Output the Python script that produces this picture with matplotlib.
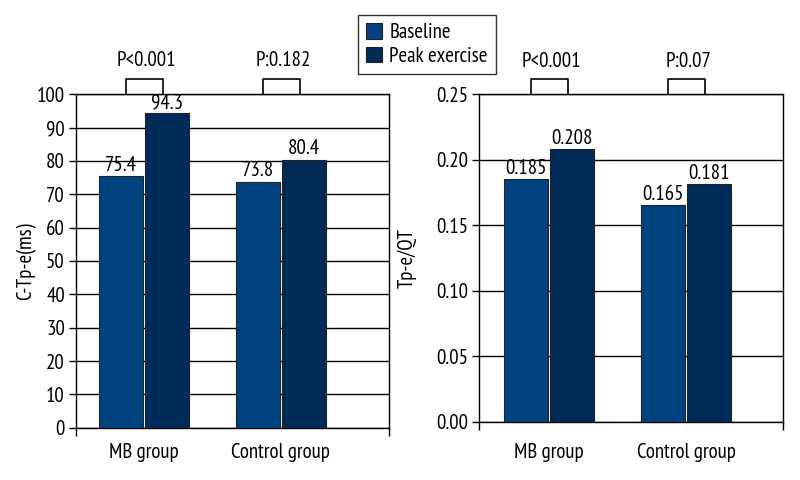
import matplotlib
matplotlib.use("Agg")
import matplotlib.pyplot as plt
from matplotlib.patches import Patch
import numpy as np

plt.rcParams["font.family"] = ["PT Sans Narrow", "DejaVu Sans"]

groups = ["MB group", "Control group"]
series = ["Baseline", "Peak exercise"]
ctpe_base = [75.4, 73.8]
ctpe_peak = [94.3, 80.4]
ratio_base = [0.185, 0.165]
ratio_peak = [0.208, 0.181]
ctpe_labels = [["75.4", "73.8"], ["94.3", "80.4"]]
ratio_labels = [["0.185", "0.165"], ["0.208", "0.181"]]
ctpe_p = ["P<0.001", "P:0.182"]
ratio_p = ["P<0.001", "P:0.07"]

c_base = "#00427F"
c_peak = "#002B59"
FS = 15

fig = plt.figure(figsize=(8, 4.8), dpi=100)
ax1 = fig.add_axes([0.095, 0.109, 0.391, 0.6945])
ax2 = fig.add_axes([0.599, 0.1215, 0.380, 0.6825])


def draw(ax, base, peak, labels, pvals, ylim, yticks, fmt, ylabel, xlim, xpad, labx):
    x = np.arange(len(groups))
    w = 0.32
    off = 0.168
    ax.bar(x - off, base, w, color=c_base, edgecolor="#222222", lw=0.8, zorder=3)
    ax.bar(x + off, peak, w, color=c_peak, edgecolor="#222222", lw=0.8, zorder=3)
    for i in range(len(groups)):
        ax.annotate(labels[0][i], (x[i] - off, base[i]), xytext=(0, 1),
                    textcoords="offset points", ha="center", va="bottom", fontsize=FS)
        ax.annotate(labels[1][i], (x[i] + off, peak[i]), xytext=(0, 1),
                    textcoords="offset points", ha="center", va="bottom", fontsize=FS)
    ax.set_ylim(*ylim)
    ax.set_xlim(*xlim)
    ax.set_yticks(yticks)
    ax.set_yticklabels([fmt.format(v) for v in yticks], fontsize=FS)
    ax.yaxis.grid(True, color="black", lw=1)
    ax.set_axisbelow(True)
    ax.set_xticks(x)
    ax.set_xticklabels(groups, fontsize=FS)
    ax.tick_params(axis="x", which="major", length=0, pad=xpad)
    ax.set_xticks(xlim, minor=True)
    ax.tick_params(axis="x", which="minor", length=6, width=1, color="black")
    ax.tick_params(axis="y", length=5, width=1, pad=3)
    for s in ax.spines.values():
        s.set_color("black")
        s.set_linewidth(1)
    ax.set_ylabel(ylabel, fontsize=FS)
    ax.yaxis.set_label_coords(labx, 0.5)
    tr = ax.get_xaxis_transform()
    for i in range(len(groups)):
        cx = x[i] + 0.005
        ax.plot([cx - 0.135, cx - 0.135, cx + 0.135, cx + 0.135],
                [1.0, 1.045, 1.045, 1.0], color="black", lw=1.2,
                transform=tr, clip_on=False)
        ax.text(cx + 0.01, 1.10, pvals[i], transform=tr, ha="center", va="center",
                fontsize=FS)


draw(ax1, ctpe_base, ctpe_peak, ctpe_labels, ctpe_p, (0, 100),
     list(range(0, 101, 10)), "{:d}", "C-Tp-e(ms)", (-0.496, 1.788), 11, -0.128)
draw(ax2, ratio_base, ratio_peak, ratio_labels, ratio_p, (0, 0.25),
     [0.0, 0.05, 0.10, 0.15, 0.20, 0.25], "{:.2f}", "Tp-e/QT", (-0.511, 1.708), 15, -0.204)

handles = [Patch(facecolor=c_base, edgecolor="#222222", lw=0.8),
           Patch(facecolor=c_peak, edgecolor="#222222", lw=0.8)]
leg = fig.legend(handles, series, loc="upper left", bbox_to_anchor=(358 / 800, 1 - 15 / 480),
                 borderaxespad=0, fontsize=FS, frameon=True, fancybox=False,
                 handlelength=0.75, handleheight=0.75, handletextpad=0.35,
                 borderpad=0.4, labelspacing=0.2)
leg.get_frame().set_edgecolor("black")
leg.get_frame().set_linewidth(1)

fig.savefig("out.png", dpi=100)
